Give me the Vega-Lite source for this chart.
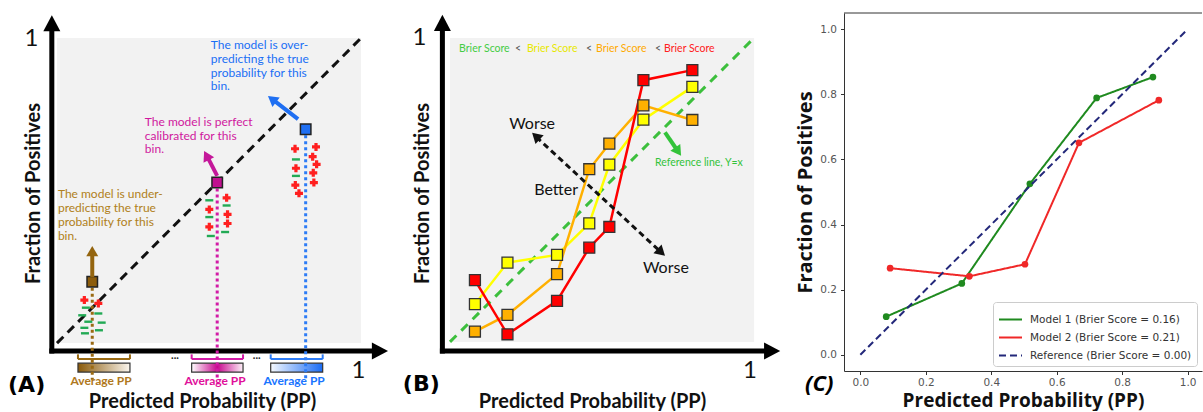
{
"$schema": "https://vega.github.io/schema/vega-lite/v6.json",
"background": "white",
"padding": {"left": 8, "top": 12, "right": 0, "bottom": 0},
"bounds": "flush",
"spacing": 51,
"config": {"view": {"stroke": null}},
"resolve": {"scale": {"color": "independent", "strokeDash": "independent", "x": "independent", "y": "independent"}, "axis": {"x": "independent", "y": "independent"}, "legend": {"color": "independent", "strokeDash": "independent"}},
"datasets": {
 "a_bins": [
  {"bin": "under", "x": 0.116, "y": 0.201, "lo": 0.069, "hi": 0.240},
  {"bin": "perfect", "x": 0.527, "y": 0.526, "lo": 0.443, "hi": 0.612},
  {"bin": "over", "x": 0.818, "y": 0.701, "lo": 0.703, "hi": 0.874}
 ],
 "a_marks": [
  {"bin": "under", "sign": "+", "x": 0.090, "y": 0.141},
  {"bin": "under", "sign": "+", "x": 0.136, "y": 0.130},
  {"bin": "under", "sign": "-", "x": 0.095, "y": 0.116},
  {"bin": "under", "sign": "-", "x": 0.083, "y": 0.091},
  {"bin": "under", "sign": "-", "x": 0.136, "y": 0.097},
  {"bin": "under", "sign": "-", "x": 0.103, "y": 0.070},
  {"bin": "under", "sign": "-", "x": 0.147, "y": 0.067},
  {"bin": "under", "sign": "-", "x": 0.090, "y": 0.050},
  {"bin": "under", "sign": "-", "x": 0.138, "y": 0.042},
  {"bin": "under", "sign": "-", "x": 0.092, "y": 0.032},
  {"bin": "perfect", "sign": "-", "x": 0.501, "y": 0.468},
  {"bin": "perfect", "sign": "+", "x": 0.558, "y": 0.476},
  {"bin": "perfect", "sign": "+", "x": 0.501, "y": 0.438},
  {"bin": "perfect", "sign": "-", "x": 0.558, "y": 0.451},
  {"bin": "perfect", "sign": "-", "x": 0.501, "y": 0.413},
  {"bin": "perfect", "sign": "+", "x": 0.561, "y": 0.422},
  {"bin": "perfect", "sign": "+", "x": 0.501, "y": 0.381},
  {"bin": "perfect", "sign": "+", "x": 0.561, "y": 0.392},
  {"bin": "perfect", "sign": "-", "x": 0.553, "y": 0.364},
  {"bin": "perfect", "sign": "-", "x": 0.506, "y": 0.351},
  {"bin": "over", "sign": "+", "x": 0.783, "y": 0.637},
  {"bin": "over", "sign": "+", "x": 0.852, "y": 0.643},
  {"bin": "over", "sign": "-", "x": 0.786, "y": 0.602},
  {"bin": "over", "sign": "+", "x": 0.841, "y": 0.611},
  {"bin": "over", "sign": "+", "x": 0.854, "y": 0.586},
  {"bin": "over", "sign": "+", "x": 0.786, "y": 0.573},
  {"bin": "over", "sign": "-", "x": 0.786, "y": 0.548},
  {"bin": "over", "sign": "+", "x": 0.843, "y": 0.558},
  {"bin": "over", "sign": "+", "x": 0.845, "y": 0.526},
  {"bin": "over", "sign": "+", "x": 0.784, "y": 0.518},
  {"bin": "over", "sign": "+", "x": 0.796, "y": 0.491}
 ],
 "b_series": [
  {"model": "yellow", "x": 0.082, "y": 0.124},
  {"model": "yellow", "x": 0.189, "y": 0.261},
  {"model": "yellow", "x": 0.352, "y": 0.286},
  {"model": "yellow", "x": 0.458, "y": 0.390},
  {"model": "yellow", "x": 0.524, "y": 0.583},
  {"model": "yellow", "x": 0.636, "y": 0.731},
  {"model": "yellow", "x": 0.797, "y": 0.839},
  {"model": "orange", "x": 0.082, "y": 0.034},
  {"model": "orange", "x": 0.189, "y": 0.089},
  {"model": "orange", "x": 0.352, "y": 0.223},
  {"model": "orange", "x": 0.458, "y": 0.568},
  {"model": "orange", "x": 0.524, "y": 0.652},
  {"model": "orange", "x": 0.636, "y": 0.778},
  {"model": "orange", "x": 0.797, "y": 0.730},
  {"model": "red", "x": 0.082, "y": 0.203},
  {"model": "red", "x": 0.189, "y": 0.025},
  {"model": "red", "x": 0.352, "y": 0.135},
  {"model": "red", "x": 0.458, "y": 0.310},
  {"model": "red", "x": 0.524, "y": 0.378},
  {"model": "red", "x": 0.636, "y": 0.861},
  {"model": "red", "x": 0.797, "y": 0.894}
 ],
 "c_series": [
  {"model": "Model 1 (Brier Score = 0.16)", "x": 0.079, "y": 0.117},
  {"model": "Model 1 (Brier Score = 0.16)", "x": 0.310, "y": 0.219},
  {"model": "Model 1 (Brier Score = 0.16)", "x": 0.518, "y": 0.525},
  {"model": "Model 1 (Brier Score = 0.16)", "x": 0.722, "y": 0.789},
  {"model": "Model 1 (Brier Score = 0.16)", "x": 0.894, "y": 0.853},
  {"model": "Model 2 (Brier Score = 0.21)", "x": 0.091, "y": 0.266},
  {"model": "Model 2 (Brier Score = 0.21)", "x": 0.333, "y": 0.241},
  {"model": "Model 2 (Brier Score = 0.21)", "x": 0.503, "y": 0.278},
  {"model": "Model 2 (Brier Score = 0.21)", "x": 0.668, "y": 0.651},
  {"model": "Model 2 (Brier Score = 0.21)", "x": 0.912, "y": 0.782},
  {"model": "Reference (Brier Score = 0.00)", "x": 0.0, "y": 0.0},
  {"model": "Reference (Brier Score = 0.00)", "x": 1.0, "y": 1.0}
 ]
},
"hconcat": [
 {
  "width": 342, "height": 338,
  "data": {"values": [{}]},
  "layer": [
   {"mark": {"type": "rect", "color": "#f2f2f2"},
    "encoding": {
     "x": {"datum": 0, "type": "quantitative", "scale": {"domain": [-0.023, 1.102], "nice": false, "zero": false},
      "axis": {"values": [0.99], "labelExpr": "'1'", "domain": false, "ticks": false, "grid": false, "labelFont": "Lato", "labelFontSize": 24, "labelColor": "#111", "labelPadding": 7, "title": "Predicted Probability (PP)", "titleFont": "Lato", "titleFontSize": 20, "titleFontWeight": "bold", "titleColor": "#111", "titleX": 152, "titleY": 56, "titleBaseline": "alphabetic", "titleAlign": "center"}},
     "x2": {"datum": 1},
     "y": {"datum": 0, "type": "quantitative", "scale": {"domain": [-0.026, 1.082], "nice": false, "zero": false},
      "axis": {"values": [1], "labelExpr": "'1'", "domain": false, "ticks": false, "grid": false, "labelFont": "Lato", "labelFontSize": 24, "labelColor": "#111", "labelPadding": 12, "title": "Fraction of Positives", "titleFont": "Lato", "titleFontSize": 20, "titleFontWeight": "bold", "titleColor": "#111", "titleX": -17, "titleY": 180, "titleAngle": 270, "titleBaseline": "middle", "titleAlign": "center"}},
     "y2": {"datum": 1}
    }},
   {"mark": {"type": "rule", "strokeDash": [9, 6], "strokeWidth": 3, "color": "#111"},
    "encoding": {"x": {"datum": 0, "type": "quantitative"}, "y": {"datum": 0, "type": "quantitative"}, "x2": {"datum": 1.005}, "y2": {"datum": 1.005}}},
   {"data": {"name": "a_bins"}, "mark": {"type": "rule", "strokeWidth": 2},
    "encoding": {"x": {"field": "lo", "type": "quantitative"}, "x2": {"field": "hi"}, "y": {"datum": -0.0525, "type": "quantitative"},
     "stroke": {"field": "bin", "type": "nominal", "scale": {"domain": ["under", "perfect", "over"], "range": ["#9a6a12", "#d21aa6", "#2d7cf6"]}, "legend": null}}},
   {"data": {"name": "a_bins"}, "mark": {"type": "rule", "strokeWidth": 2},
    "encoding": {"x": {"field": "lo", "type": "quantitative"}, "y": {"datum": -0.0525, "type": "quantitative"}, "y2": {"datum": -0.037},
     "stroke": {"field": "bin", "type": "nominal", "legend": null}}},
   {"data": {"name": "a_bins"}, "mark": {"type": "rule", "strokeWidth": 2},
    "encoding": {"x": {"field": "hi", "type": "quantitative"}, "y": {"datum": -0.0525, "type": "quantitative"}, "y2": {"datum": -0.037},
     "stroke": {"field": "bin", "type": "nominal", "legend": null}}},
   {"data": {"name": "a_bins"}, "transform": [{"filter": "datum.bin === 'under'"}],
    "mark": {"type": "rect", "stroke": "#333", "strokeWidth": 1.2, "fill": {"gradient": "linear", "x1": 0, "x2": 1, "y1": 0, "y2": 0, "stops": [{"offset": 0, "color": "#8a5a0a"}, {"offset": 1, "color": "#fbf6ee"}]}},
    "encoding": {"x": {"field": "lo", "type": "quantitative"}, "x2": {"field": "hi"}, "y": {"datum": -0.066, "type": "quantitative"}, "y2": {"datum": -0.095}}},
   {"data": {"name": "a_bins"}, "transform": [{"filter": "datum.bin === 'perfect'"}],
    "mark": {"type": "rect", "stroke": "#333", "strokeWidth": 1.2, "fill": {"gradient": "linear", "x1": 0, "x2": 1, "y1": 0, "y2": 0, "stops": [{"offset": 0, "color": "#ffffff"}, {"offset": 0.5, "color": "#c8088f"}, {"offset": 1, "color": "#fdf0f8"}]}},
    "encoding": {"x": {"field": "lo", "type": "quantitative"}, "x2": {"field": "hi"}, "y": {"datum": -0.066, "type": "quantitative"}, "y2": {"datum": -0.095}}},
   {"data": {"name": "a_bins"}, "transform": [{"filter": "datum.bin === 'over'"}],
    "mark": {"type": "rect", "stroke": "#333", "strokeWidth": 1.2, "fill": {"gradient": "linear", "x1": 0, "x2": 1, "y1": 0, "y2": 0, "stops": [{"offset": 0, "color": "#f5f9ff"}, {"offset": 1, "color": "#1a6cf5"}]}},
    "encoding": {"x": {"field": "lo", "type": "quantitative"}, "x2": {"field": "hi"}, "y": {"datum": -0.066, "type": "quantitative"}, "y2": {"datum": -0.095}}},
   {"mark": {"type": "rule", "strokeWidth": 5, "color": "#000", "strokeCap": "square"},
    "encoding": {"x": {"datum": -0.017, "type": "quantitative"}, "y": {"datum": -0.026, "type": "quantitative"}, "y2": {"datum": 1.04}}},
   {"mark": {"type": "rule", "strokeWidth": 5, "color": "#000", "strokeCap": "square"},
    "encoding": {"x": {"datum": -0.017, "type": "quantitative"}, "x2": {"datum": 1.05}, "y": {"datum": -0.026, "type": "quantitative"}}},
   {"mark": {"type": "point", "shape": "M0,0L-1,1.9L1,1.9Z", "filled": true, "size": 289, "color": "#000", "opacity": 1, "angle": 0},
    "encoding": {"x": {"datum": -0.017, "type": "quantitative"}, "y": {"datum": 1.075, "type": "quantitative"}}},
   {"mark": {"type": "point", "shape": "M0,0L-1,1.9L1,1.9Z", "filled": true, "size": 289, "color": "#000", "opacity": 1, "angle": 90},
    "encoding": {"x": {"datum": 1.089, "type": "quantitative"}, "y": {"datum": -0.026, "type": "quantitative"}}},
   {"data": {"name": "a_bins"}, "mark": {"type": "rule", "strokeDash": [3, 3], "strokeWidth": 3},
    "encoding": {"x": {"field": "x", "type": "quantitative"}, "y": {"field": "y", "type": "quantitative"}, "y2": {"datum": -0.12},
     "stroke": {"field": "bin", "type": "nominal", "legend": null}}},
   {"data": {"name": "a_marks"}, "transform": [{"filter": "datum.sign === '+'"}],
    "mark": {"type": "point", "shape": "cross", "filled": true, "size": 64, "color": "#ff1f1f", "opacity": 1},
    "encoding": {"x": {"field": "x", "type": "quantitative"}, "y": {"field": "y", "type": "quantitative"}}},
   {"data": {"name": "a_marks"}, "transform": [{"filter": "datum.sign === '-'"}],
    "mark": {"type": "point", "shape": "M-1,-0.3H1V0.3H-1Z", "filled": true, "size": 64, "color": "#22aa55", "opacity": 1},
    "encoding": {"x": {"field": "x", "type": "quantitative"}, "y": {"field": "y", "type": "quantitative"}}},
   {"data": {"name": "a_bins"}, "mark": {"type": "point", "shape": "square", "filled": true, "size": 110, "stroke": "#222", "strokeWidth": 1.5, "opacity": 1},
    "encoding": {"x": {"field": "x", "type": "quantitative"}, "y": {"field": "y", "type": "quantitative"},
     "fill": {"field": "bin", "type": "nominal", "scale": {"domain": ["under", "perfect", "over"], "range": ["#8d5d0c", "#c0108f", "#1f6ff2"]}, "legend": null}}},
   {"mark": {"type": "rule", "strokeWidth": 4, "color": "#94650f"},
    "encoding": {"x": {"datum": 0.116, "type": "quantitative"}, "y": {"datum": 0.216, "type": "quantitative"}, "y2": {"datum": 0.300}}},
   {"mark": {"type": "point", "shape": "M0,0L-1,1.7L1,1.7Z", "filled": true, "size": 144, "color": "#94650f", "opacity": 1, "angle": 0},
    "encoding": {"x": {"datum": 0.116, "type": "quantitative"}, "y": {"datum": 0.318, "type": "quantitative"}}},
   {"mark": {"type": "rule", "strokeWidth": 4, "color": "#c4189a"},
    "encoding": {"x": {"datum": 0.527, "type": "quantitative"}, "y": {"datum": 0.548, "type": "quantitative"}, "x2": {"datum": 0.494}, "y2": {"datum": 0.612}}},
   {"mark": {"type": "point", "shape": "M0,0L-1,1.7L1,1.7Z", "filled": true, "size": 144, "color": "#c4189a", "opacity": 1, "angle": 332.5},
    "encoding": {"x": {"datum": 0.484, "type": "quantitative"}, "y": {"datum": 0.630, "type": "quantitative"}}},
   {"mark": {"type": "rule", "strokeWidth": 4, "color": "#1f6ff2"},
    "encoding": {"x": {"datum": 0.793, "type": "quantitative"}, "y": {"datum": 0.734, "type": "quantitative"}, "x2": {"datum": 0.710}, "y2": {"datum": 0.798}}},
   {"mark": {"type": "point", "shape": "M0,0L-1,1.7L1,1.7Z", "filled": true, "size": 144, "color": "#1f6ff2", "opacity": 1, "angle": 307.5},
    "encoding": {"x": {"datum": 0.694, "type": "quantitative"}, "y": {"datum": 0.810, "type": "quantitative"}}},
   {"mark": {"type": "text", "text": ["The model is under-", "predicting the true", "probability for this", "bin."], "align": "left", "baseline": "top", "font": "Lato", "fontSize": 12, "lineHeight": 14, "color": "#b08020"},
    "encoding": {"x": {"datum": 0.003, "type": "quantitative"}, "y": {"datum": 0.505, "type": "quantitative"}}},
   {"mark": {"type": "text", "text": ["The model is perfect", "calibrated for this", "bin."], "align": "left", "baseline": "top", "font": "Lato", "fontSize": 12, "lineHeight": 13.7, "color": "#d0189e"},
    "encoding": {"x": {"datum": 0.289, "type": "quantitative"}, "y": {"datum": 0.741, "type": "quantitative"}}},
   {"mark": {"type": "text", "text": ["The model is over-", "predicting the true", "probability for this", "bin."], "align": "left", "baseline": "top", "font": "Lato", "fontSize": 12, "lineHeight": 13.7, "color": "#1a6ff5"},
    "encoding": {"x": {"datum": 0.506, "type": "quantitative"}, "y": {"datum": 0.993, "type": "quantitative"}}},
   {"mark": {"type": "text", "text": "Average PP", "align": "center", "baseline": "middle", "font": "Lato", "fontSize": 12, "fontWeight": "bold", "color": "#b07820"},
    "encoding": {"x": {"datum": 0.145, "type": "quantitative"}, "y": {"datum": -0.125, "type": "quantitative"}}},
   {"mark": {"type": "text", "text": "Average PP", "align": "center", "baseline": "middle", "font": "Lato", "fontSize": 12, "fontWeight": "bold", "color": "#e0109a"},
    "encoding": {"x": {"datum": 0.520, "type": "quantitative"}, "y": {"datum": -0.125, "type": "quantitative"}}},
   {"mark": {"type": "text", "text": "Average PP", "align": "center", "baseline": "middle", "font": "Lato", "fontSize": 12, "fontWeight": "bold", "color": "#1a75ff"},
    "encoding": {"x": {"datum": 0.780, "type": "quantitative"}, "y": {"datum": -0.125, "type": "quantitative"}}},
   {"mark": {"type": "text", "text": "...", "align": "center", "baseline": "middle", "font": "Lato", "fontSize": 11, "fontWeight": "bold", "color": "#222"},
    "encoding": {"x": {"datum": 0.388, "type": "quantitative"}, "y": {"datum": -0.043, "type": "quantitative"}}},
   {"mark": {"type": "text", "text": "...", "align": "center", "baseline": "middle", "font": "Lato", "fontSize": 11, "fontWeight": "bold", "color": "#222"},
    "encoding": {"x": {"datum": 0.657, "type": "quantitative"}, "y": {"datum": -0.043, "type": "quantitative"}}},
   {"mark": {"type": "text", "text": "(A)", "align": "left", "baseline": "middle", "font": "DejaVu Sans", "fontSize": 22, "fontWeight": "bold", "color": "#000"},
    "encoding": {"x": {"datum": -0.161, "type": "quantitative"}, "y": {"datum": -0.138, "type": "quantitative"}}}
  ]
 },
 {
  "width": 350, "height": 338,
  "data": {"values": [{}]},
  "layer": [
   {"mark": {"type": "rect", "color": "#f2f2f2"},
    "encoding": {
     "x": {"datum": 0, "type": "quantitative", "scale": {"domain": [-0.023, 1.128], "nice": false, "zero": false},
      "axis": {"values": [0.985], "labelExpr": "'1'", "domain": false, "ticks": false, "grid": false, "labelFont": "Lato", "labelFontSize": 24, "labelColor": "#111", "labelPadding": 7, "title": "Predicted Probability (PP)", "titleFont": "Lato", "titleFontSize": 20, "titleFontWeight": "bold", "titleColor": "#111", "titleX": 149, "titleY": 56, "titleBaseline": "alphabetic", "titleAlign": "center"}},
     "x2": {"datum": 1},
     "y": {"datum": 0, "type": "quantitative", "scale": {"domain": [-0.03, 1.082], "nice": false, "zero": false},
      "axis": {"values": [1], "labelExpr": "'1'", "domain": false, "ticks": false, "grid": false, "labelFont": "Lato", "labelFontSize": 24, "labelColor": "#111", "labelPadding": 17, "title": "Fraction of Positives", "titleFont": "Lato", "titleFontSize": 20, "titleFontWeight": "bold", "titleColor": "#111", "titleX": -21, "titleY": 180, "titleAngle": 270, "titleBaseline": "middle", "titleAlign": "center"}},
     "y2": {"datum": 1}
    }},
   {"mark": {"type": "rule", "strokeDash": [9, 7], "strokeWidth": 3, "color": "#3cbf3c"},
    "encoding": {"x": {"datum": 0, "type": "quantitative"}, "y": {"datum": 0, "type": "quantitative"}, "x2": {"datum": 1.003}, "y2": {"datum": 1.003}}},
   {"mark": {"type": "rule", "strokeWidth": 5, "color": "#000", "strokeCap": "square"},
    "encoding": {"x": {"datum": -0.025, "type": "quantitative"}, "y": {"datum": -0.03, "type": "quantitative"}, "y2": {"datum": 1.04}}},
   {"mark": {"type": "rule", "strokeWidth": 5, "color": "#000", "strokeCap": "square"},
    "encoding": {"x": {"datum": -0.025, "type": "quantitative"}, "x2": {"datum": 1.05}, "y": {"datum": -0.03, "type": "quantitative"}}},
   {"mark": {"type": "point", "shape": "M0,0L-1,1.9L1,1.9Z", "filled": true, "size": 289, "color": "#000", "opacity": 1, "angle": 0},
    "encoding": {"x": {"datum": -0.025, "type": "quantitative"}, "y": {"datum": 1.076, "type": "quantitative"}}},
   {"mark": {"type": "point", "shape": "M0,0L-1,1.9L1,1.9Z", "filled": true, "size": 289, "color": "#000", "opacity": 1, "angle": 90},
    "encoding": {"x": {"datum": 1.086, "type": "quantitative"}, "y": {"datum": -0.03, "type": "quantitative"}}},
   {"data": {"name": "b_series"}, "mark": {"type": "line", "strokeWidth": 2.5},
    "encoding": {"x": {"field": "x", "type": "quantitative"}, "y": {"field": "y", "type": "quantitative"},
     "color": {"field": "model", "type": "nominal", "scale": {"domain": ["yellow", "orange", "red"], "range": ["#ffff00", "#ffb000", "#ff0000"]}, "legend": null}}},
   {"data": {"name": "b_series"}, "mark": {"type": "point", "shape": "square", "filled": true, "size": 120, "stroke": "#333", "strokeWidth": 1.3, "opacity": 1},
    "encoding": {"x": {"field": "x", "type": "quantitative"}, "y": {"field": "y", "type": "quantitative"},
     "color": {"field": "model", "type": "nominal", "legend": null}}},
   {"mark": {"type": "rule", "strokeDash": [6, 4], "strokeWidth": 3, "color": "#111"},
    "encoding": {"x": {"datum": 0.284, "type": "quantitative"}, "y": {"datum": 0.674, "type": "quantitative"}, "x2": {"datum": 0.693}, "y2": {"datum": 0.296}}},
   {"mark": {"type": "point", "shape": "M0,0L-1,1.7L1,1.7Z", "filled": true, "size": 144, "color": "#111", "opacity": 1, "angle": 312.8},
    "encoding": {"x": {"datum": 0.270, "type": "quantitative"}, "y": {"datum": 0.688, "type": "quantitative"}}},
   {"mark": {"type": "point", "shape": "M0,0L-1,1.7L1,1.7Z", "filled": true, "size": 144, "color": "#111", "opacity": 1, "angle": 132.8},
    "encoding": {"x": {"datum": 0.707, "type": "quantitative"}, "y": {"datum": 0.283, "type": "quantitative"}}},
   {"mark": {"type": "rule", "strokeWidth": 4, "color": "#33c33a"},
    "encoding": {"x": {"datum": 0.707, "type": "quantitative"}, "y": {"datum": 0.689, "type": "quantitative"}, "x2": {"datum": 0.749}, "y2": {"datum": 0.628}}},
   {"mark": {"type": "point", "shape": "M0,0L-1,1.7L1,1.7Z", "filled": true, "size": 144, "color": "#33c33a", "opacity": 1, "angle": 145.5},
    "encoding": {"x": {"datum": 0.760, "type": "quantitative"}, "y": {"datum": 0.612, "type": "quantitative"}}},
   {"mark": {"type": "text", "text": "Worse", "align": "center", "baseline": "middle", "font": "Lato", "fontSize": 16, "color": "#111"},
    "encoding": {"x": {"datum": 0.270, "type": "quantitative"}, "y": {"datum": 0.718, "type": "quantitative"}}},
   {"mark": {"type": "text", "text": "Better", "align": "center", "baseline": "middle", "font": "Lato", "fontSize": 16, "color": "#111"},
    "encoding": {"x": {"datum": 0.349, "type": "quantitative"}, "y": {"datum": 0.499, "type": "quantitative"}}},
   {"mark": {"type": "text", "text": "Worse", "align": "center", "baseline": "middle", "font": "Lato", "fontSize": 16, "color": "#111"},
    "encoding": {"x": {"datum": 0.710, "type": "quantitative"}, "y": {"datum": 0.244, "type": "quantitative"}}},
   {"mark": {"type": "text", "text": "Reference line, Y=x", "align": "left", "baseline": "middle", "font": "Lato", "fontSize": 10.5, "color": "#33c33a"},
    "encoding": {"x": {"datum": 0.674, "type": "quantitative"}, "y": {"datum": 0.587, "type": "quantitative"}}},
   {"mark": {"type": "text", "text": "Brier Score", "align": "left", "baseline": "middle", "font": "Lato", "fontSize": 10.5, "color": "#44cc44"},
    "encoding": {"x": {"datum": 0.030, "type": "quantitative"}, "y": {"datum": 0.964, "type": "quantitative"}}},
   {"mark": {"type": "text", "text": "<", "align": "left", "baseline": "middle", "font": "Lato", "fontSize": 10.5, "color": "#555"},
    "encoding": {"x": {"datum": 0.214, "type": "quantitative"}, "y": {"datum": 0.964, "type": "quantitative"}}},
   {"mark": {"type": "text", "text": "Brier Score", "align": "left", "baseline": "middle", "font": "Lato", "fontSize": 10.5, "color": "#e8e800"},
    "encoding": {"x": {"datum": 0.253, "type": "quantitative"}, "y": {"datum": 0.964, "type": "quantitative"}}},
   {"mark": {"type": "text", "text": "<", "align": "left", "baseline": "middle", "font": "Lato", "fontSize": 10.5, "color": "#555"},
    "encoding": {"x": {"datum": 0.447, "type": "quantitative"}, "y": {"datum": 0.964, "type": "quantitative"}}},
   {"mark": {"type": "text", "text": "Brier Score", "align": "left", "baseline": "middle", "font": "Lato", "fontSize": 10.5, "color": "#ffaa00"},
    "encoding": {"x": {"datum": 0.480, "type": "quantitative"}, "y": {"datum": 0.964, "type": "quantitative"}}},
   {"mark": {"type": "text", "text": "<", "align": "left", "baseline": "middle", "font": "Lato", "fontSize": 10.5, "color": "#555"},
    "encoding": {"x": {"datum": 0.674, "type": "quantitative"}, "y": {"datum": 0.964, "type": "quantitative"}}},
   {"mark": {"type": "text", "text": "Brier Score", "align": "left", "baseline": "middle", "font": "Lato", "fontSize": 10.5, "color": "#ff2020"},
    "encoding": {"x": {"datum": 0.704, "type": "quantitative"}, "y": {"datum": 0.964, "type": "quantitative"}}},
   {"mark": {"type": "text", "text": "(B)", "align": "left", "baseline": "middle", "font": "DejaVu Sans", "fontSize": 22, "fontWeight": "bold", "color": "#000"},
    "encoding": {"x": {"datum": -0.155, "type": "quantitative"}, "y": {"datum": -0.138, "type": "quantitative"}}}
  ]
 },
 {
  "width": 358, "height": 358,
  "data": {"name": "c_series"},
  "layer": [
   {"transform": [{"filter": "datum.model !== 'Reference (Brier Score = 0.00)'"}],
    "mark": {"type": "line", "strokeWidth": 2},
    "encoding": {
     "x": {"field": "x", "type": "quantitative", "scale": {"domain": [-0.05, 1.044], "nice": false, "zero": false},
      "axis": {"values": [0, 0.2, 0.4, 0.6, 0.8, 1.0], "format": ".1f", "domain": true, "domainColor": "#333", "domainWidth": 1, "ticks": true, "tickSize": 3.5, "tickColor": "#333", "grid": false, "labelFont": "DejaVu Sans", "labelFontSize": 10.5, "labelColor": "#555", "labelPadding": 3, "title": "Predicted Probability (PP)", "titleFont": "Open Sans", "titleFontSize": 19, "titleFontWeight": "bold", "titleColor": "#111", "titleY": 35, "titleBaseline": "alphabetic"}},
     "y": {"field": "y", "type": "quantitative", "scale": {"domain": [-0.05, 1.05], "nice": false, "zero": false},
      "axis": {"values": [0, 0.2, 0.4, 0.6, 0.8, 1.0], "format": ".1f", "domain": true, "domainColor": "#333", "domainWidth": 1, "ticks": true, "tickSize": 3.5, "tickColor": "#333", "grid": false, "labelFont": "DejaVu Sans", "labelFontSize": 10.5, "labelColor": "#555", "labelPadding": 4, "title": "Fraction of Positives", "titleFont": "Open Sans", "titleFontSize": 20, "titleFontWeight": "bold", "titleColor": "#111", "titleX": -39, "titleY": 179, "titleAngle": 270, "titleBaseline": "middle", "titleAlign": "center"}},
     "color": {"field": "model", "type": "nominal",
      "scale": {"domain": ["Model 1 (Brier Score = 0.16)", "Model 2 (Brier Score = 0.21)", "Reference (Brier Score = 0.00)"], "range": ["#1f8a1f", "#f02828", "#23287a"]},
      "legend": {"title": null, "orient": "bottom-right", "offset": 5, "symbolType": "stroke", "symbolSize": 529, "symbolStrokeWidth": 2, "labelFont": "DejaVu Sans", "labelFontSize": 10.5, "labelColor": "#333", "labelLimit": 300, "fillColor": "#ffffff", "strokeColor": "#cccccc", "padding": 5, "cornerRadius": 3, "rowPadding": -3, "labelOffset": 7}},
     "strokeDash": {"field": "model", "type": "nominal",
      "scale": {"domain": ["Model 1 (Brier Score = 0.16)", "Model 2 (Brier Score = 0.21)", "Reference (Brier Score = 0.00)"], "range": [[1, 0], [1, 0], [7, 4]]},
      "legend": {"title": null, "orient": "bottom-right", "offset": 5}}
    }},
   {"transform": [{"filter": "datum.model !== 'Reference (Brier Score = 0.00)'"}],
    "mark": {"type": "point", "filled": true, "size": 45, "opacity": 1},
    "encoding": {"x": {"field": "x", "type": "quantitative"}, "y": {"field": "y", "type": "quantitative"},
     "color": {"field": "model", "type": "nominal", "legend": null}}},
   {"transform": [{"filter": "datum.model === 'Reference (Brier Score = 0.00)'"}],
    "mark": {"type": "line", "strokeWidth": 2},
    "encoding": {"x": {"field": "x", "type": "quantitative"}, "y": {"field": "y", "type": "quantitative"},
     "color": {"field": "model", "type": "nominal", "legend": null},
     "strokeDash": {"field": "model", "type": "nominal", "legend": null}}},
   {"data": {"values": [{}]}, "mark": {"type": "rule", "color": "#333", "strokeWidth": 1},
    "encoding": {"x": {"datum": -0.05, "type": "quantitative"}, "x2": {"datum": 1.044}, "y": {"datum": 1.05, "type": "quantitative"}}},
   {"data": {"values": [{}]}, "mark": {"type": "text", "text": "(C)", "align": "left", "baseline": "middle", "font": "Open Sans", "fontSize": 22, "fontWeight": "bold", "fontStyle": "italic", "color": "#000"},
    "encoding": {"x": {"datum": -0.169, "type": "quantitative"}, "y": {"datum": -0.09, "type": "quantitative"}}}
  ]
 }
]
}
